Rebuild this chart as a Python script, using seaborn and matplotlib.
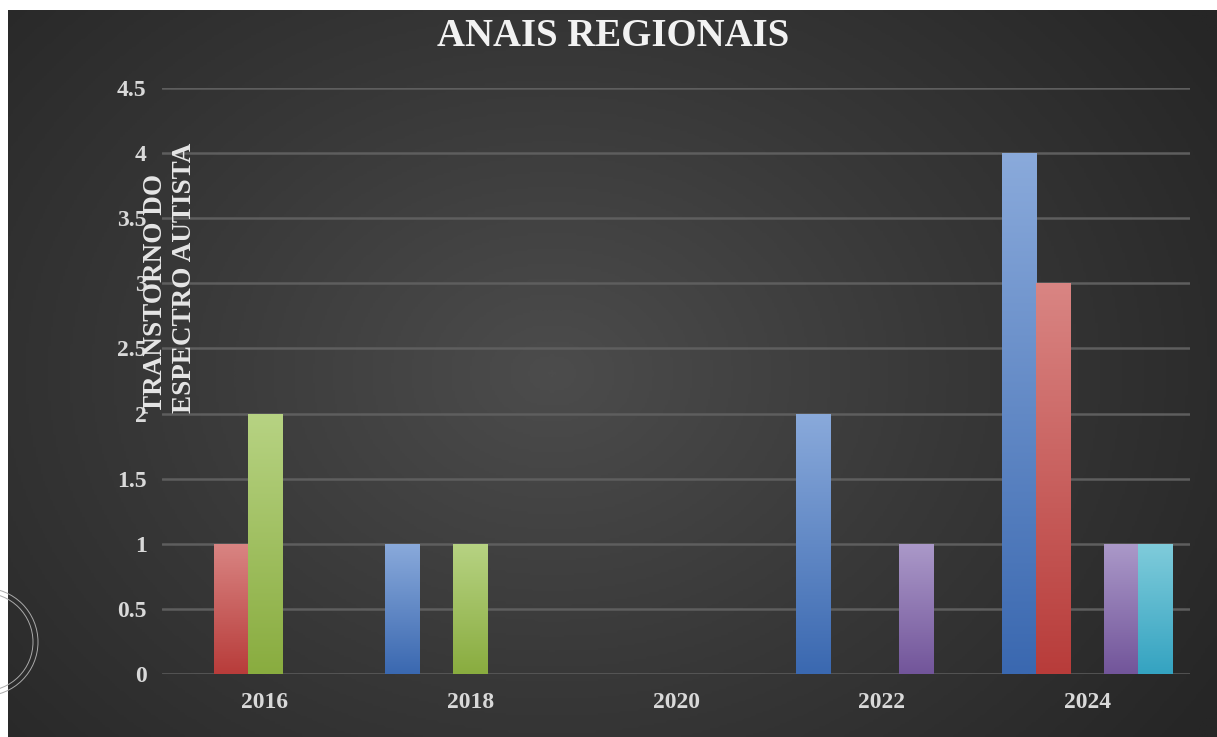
import numpy as np
import pandas as pd
import seaborn as sns
import matplotlib.pyplot as plt
from matplotlib.colors import LinearSegmentedColormap, to_rgba
from matplotlib.patches import Circle

anos = ["2016", "2018", "2020", "2022", "2024"]
series = ["Série 1", "Série 2", "Série 3", "Série 4", "Série 5"]
serie1 = [0, 1, 0, 2, 4]
serie2 = [1, 0, 0, 0, 3]
serie3 = [2, 1, 0, 0, 0]
serie4 = [0, 0, 0, 1, 1]
serie5 = [0, 0, 0, 0, 1]
yticks = [0, 0.5, 1, 1.5, 2, 2.5, 3, 3.5, 4, 4.5]
ytick_labels = ["0", "0.5", "1", "1.5", "2", "2.5", "3", "3.5", "4", "4.5"]

cor_base = ["#3a68b0", "#b83c3a", "#89ac3f", "#72559a", "#34a3c1"]
cor_topo = ["#8aaadb", "#d98583", "#b7d383", "#ab99c9", "#80ccdb"]

valores = [serie1, serie2, serie3, serie4, serie5]
df = pd.DataFrame([
    {"ano": a, "serie": s, "valor": v}
    for s, vals in zip(series, valores)
    for a, v in zip(anos, vals)
])

sns.set_style("dark")
plt.rcParams['font.family'] = ['Liberation Serif', 'DejaVu Serif']

W, H = 1217, 737
fig = plt.figure(figsize=(W / 100, H / 100), dpi=100)
fig.patch.set_facecolor("white")

# fundo escuro com gradiente radial
bg = fig.add_axes([8 / W, 0, 1 - 8 / W, 1 - 10 / H])
yy, xx = np.mgrid[0:1:300j, 0:1:500j]
r = np.sqrt(((xx - 0.45) * 1.3) ** 2 + ((yy - 0.5) * 1.0) ** 2)
r = np.clip(r / 0.85, 0, 1)
bg_cmap = LinearSegmentedColormap.from_list("bg", ["#4c4c4c", "#383838", "#262626"])
bg.imshow(r, cmap=bg_cmap, aspect="auto", extent=[0, 1, 0, 1], origin="lower")
bg.set_axis_off()

# circulos decorativos no canto
for rad in [54, 49]:
    fig.patches.append(Circle((-16, H - 642), rad, transform=None,
                              fill=False, edgecolor="#aaaaaa", lw=0.7, zorder=5))

ax = fig.add_axes([162 / W, 63 / H, (1190 - 162) / W, (674 - 88) / H])
ax.set_facecolor("none")
sns.barplot(data=df, x="ano", y="valor", hue="serie", order=anos, hue_order=series,
            palette=cor_base, width=0.83, linewidth=0, legend=False, ax=ax, zorder=3)

# gradiente vertical em cada barra
grad = np.linspace(0, 1, 256).reshape(-1, 1)
base_rgba = [to_rgba(c) for c in cor_base]
for p in list(ax.patches):
    h = p.get_height()
    if h <= 0:
        continue
    fc = p.get_facecolor()
    i = int(np.argmin([sum(abs(a - b) for a, b in zip(fc[:3], c[:3])) for c in base_rgba]))
    cm = LinearSegmentedColormap.from_list("g", [cor_base[i], cor_topo[i]])
    x0 = p.get_x()
    im = ax.imshow(grad, cmap=cm, extent=[x0, x0 + p.get_width(), 0, h],
                   origin="lower", aspect="auto", zorder=4)
    im.set_clip_path(p)

ax.set_xlim(-0.5, 4.5)
ax.set_ylim(0, 4.5)
ax.set_yticks(yticks)
ax.set_yticklabels(ytick_labels)
ax.grid(axis="y", color="#5e5e5e", linewidth=1.8, zorder=1)
ax.grid(axis="x", visible=False)
ax.set_axisbelow(True)
for s in ax.spines.values():
    s.set_visible(False)
ax.tick_params(axis="both", length=0, colors="#d9d9d9", labelsize=17)
ax.tick_params(axis="y", pad=11)
ax.tick_params(axis="x", pad=13)
for t in ax.get_xticklabels() + ax.get_yticklabels():
    t.set_fontweight("bold")
ax.set_xlabel("")
ax.set_ylabel("")

# rotulo do eixo y, dentro da area do grafico como no original
fig.text(170 / W, 1 - 278 / H, "TRANSTORNO DO\nESPECTRO AUTISTA", rotation=90,
         ha="center", va="center", multialignment="left", color="#e6e6e6",
         fontsize=19.5, fontweight="bold", linespacing=1.25)

fig.text(613 / W, 1 - 37 / H, "ANAIS REGIONAIS", ha="center", va="center",
         color="#f2f2f2", fontsize=28, fontweight="bold")

fig.savefig("out.png", dpi=100)
